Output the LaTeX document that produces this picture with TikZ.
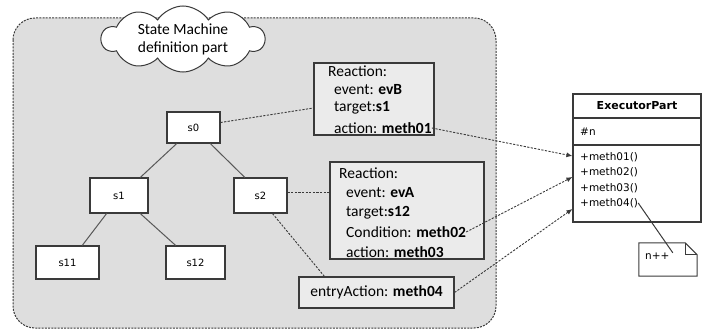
\documentclass[tikz,border=0pt]{standalone}
\usepackage{fontspec}
\setmainfont{Carlito}
\newfontfamily\umlfont{DejaVu Sans}
\usetikzlibrary{shapes.symbols,arrows.meta,calc}

\definecolor{panel}{HTML}{DEDEDE}
\definecolor{boxfill}{HTML}{EBEBEB}
\definecolor{ink}{HTML}{3A3A3A}

\tikzset{
  statebox/.style={draw=ink, line width=1.1pt, fill=white, inner sep=0pt,
                   font=\umlfont\fontsize{10}{12}\selectfont},
  reactbox/.style={draw=ink, line width=1.1pt, fill=boxfill, inner sep=0pt},
  txt/.style={anchor=west, inner sep=0pt, font=\fontsize{15.5}{19}\selectfont},
  tree/.style={draw=ink!85, line width=1pt},
  link/.style={draw=ink, line width=0.9pt, dash pattern=on 2.2pt off 1.4pt},
  call/.style={link, -{Latex[length=6pt,width=5pt]}},
  classpart/.style={draw=ink, line width=1.1pt, fill=white, inner sep=0pt, minimum width=128pt},
  umltxt/.style={anchor=west, inner sep=0pt, font=\umlfont\fontsize{10.5}{12}\selectfont},
}

\begin{document}
\begin{tikzpicture}[x=1pt,y=-1pt]
\useasboundingbox (0,0) rectangle (704,329);

% state machine definition area
\draw[fill=panel, draw=ink, line width=1pt, dash pattern=on 2pt off 1.2pt, rounded corners=22pt]
  (13,18) rectangle (496,328);

\node[cloud, draw=ink, fill=white, cloud puffs=10, cloud puff arc=115, aspect=2.5, line width=1pt,
      minimum width=163pt, minimum height=66pt, inner sep=0pt] (cloud) at (183,39) {};
\node[align=center, inner sep=0pt, font=\fontsize{15.5}{18}\selectfont] (cloudtxt) at (183,39)
  {State Machine\\definition part};

% state tree
\node[statebox, minimum width=53pt, minimum height=31pt] (s0)  at (193.5,127.5) {s0};
\node[statebox, minimum width=58pt, minimum height=35pt] (s1)  at (119,195.5) {s1};
\node[statebox, minimum width=53pt, minimum height=35pt] (s2)  at (260.5,195.5) {s2};
\node[statebox, minimum width=63pt, minimum height=33pt] (s11) at (67.5,262.5) {s11};
\node[statebox, minimum width=59pt, minimum height=33pt] (s12) at (195.5,262.5) {s12};

\draw[tree] ($(s0.south west)!.19!(s0.south east)$) -- ($(s1.north west)!.86!(s1.north east)$);
\draw[tree] ($(s0.south west)!.81!(s0.south east)$) -- ($(s2.north west)!.21!(s2.north east)$);
\draw[tree] ($(s1.south west)!.29!(s1.south east)$) -- ($(s11.north west)!.73!(s11.north east)$);
\draw[tree] ($(s1.south west)!.86!(s1.south east)$) -- ($(s12.north west)!.17!(s12.north east)$);

% reaction of s0
\node[reactbox, minimum width=120pt, minimum height=72pt] (r1) at (374,99) {};
\node[txt] (r1a) at (328,71)  {Reaction:};
\node[txt] (r1b) at (334,90)  {event: \textbf{evB}};
\node[txt] (r1c) at (334,108) {target:\textbf{s1}};
\node[txt] (r1d) at (334,128) {action: \textbf{meth01}};

% reaction of s2
\node[reactbox, minimum width=154pt, minimum height=97pt] (r2) at (407,210.5) {};
\node[txt] (r2a) at (339,173) {Reaction:};
\node[txt] (r2b) at (346,193) {event: \textbf{evA}};
\node[txt] (r2c) at (346,213) {target:\textbf{s12}};
\node[txt] (r2d) at (346,232) {Condition: \textbf{meth02}};
\node[txt] (r2e) at (346,252) {action: \textbf{meth03}};

% entry action of s2
\node[reactbox, minimum width=155pt, minimum height=31pt,
      font=\fontsize{15.5}{19}\selectfont] (ea) at (376.5,292.5) {entryAction: \textbf{meth04}};

\draw[link] ($(s0.east)+(0,-5)$) -- ($(r1.west)+(0,9)$);
\draw[link] ($(s2.east)+(0,-3)$) -- ($(r2.west |- s2.east)+(0,-3)$);
\draw[link] ($(s2.south)+(12,0)$) -- ($(ea.north west)+(26,0)$);

% executor class
\node[classpart, minimum height=24pt] (hdr) at (637,106) {};
\node[classpart, minimum height=27pt] (attr) at (637,131.5) {};
\node[classpart, minimum height=77pt] (ops) at (637,183.5) {};
\node[inner sep=0pt, font=\umlfont\bfseries\fontsize{11}{13}\selectfont] (title) at (hdr) {ExecutorPart};
\node[umltxt] (n)   at (580,132) {\#n};
\node[umltxt] (m01) at (580,157) {+meth01()};
\node[umltxt] (m02) at (580,172) {+meth02()};
\node[umltxt] (m03) at (580,188) {+meth03()};
\node[umltxt] (m04) at (580,203) {+meth04()};

\draw[call] (r1d.east) -- ($(m01.west -| ops.west)+(0,-1)$);
\draw[call] (r2d.east) -- ($(m02.west -| ops.west)+(0,5)$);
\draw[call] (ea.east) -- ($(m04.west -| ops.west)+(0,6)$);

% note attached to meth04
\node[inner sep=0pt, minimum width=58pt, minimum height=33pt] (note) at (668,259.5) {};
\draw[draw=ink, line width=1pt, fill=white]
  (note.north west) -- ($(note.north east)+(-12,0)$) -- ($(note.north east)+(0,12)$)
  -- (note.south east) -- (note.south west) -- cycle;
\draw[draw=ink, line width=1pt] ($(note.north east)+(-12,0)$) |- ($(note.north east)+(0,12)$);
\node[umltxt] (ntext) at (645,256) {n++};
\coordinate (noteend) at ($(note.north west)+(34,10)$);
\draw[draw=ink, line width=1pt] (m04.east) -- (noteend);
\end{tikzpicture}
\end{document}
